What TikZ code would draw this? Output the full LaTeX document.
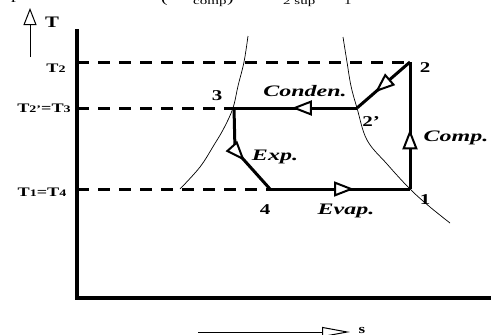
\documentclass[tikz,border=0pt]{standalone}
\usepackage{fontspec}
\setmainfont{Liberation Serif}
\usetikzlibrary{arrows.meta,decorations.markings}
\newcommand\hstretch[2]{\scalebox{#1}[1]{#2}}
\newcommand\smalldig[1]{{\fontsize{10}{10}\selectfont #1}}
\begin{document}
\begin{tikzpicture}[x=1pt,y=-1pt,
  axisline/.style={line width=3.4pt},
  cycline/.style={line width=3pt, line join=miter, line cap=butt},
  dashline/.style={line width=3pt, dash pattern=on 12pt off 9pt},
  satcurve/.style={line width=0.7pt},
  midarrow/.style={decoration={markings, mark=at position #1 with {\arrow{Triangle[fill=white,line width=2pt,length=20pt,width=15pt]}}}, postaction=decorate},
  numlbl/.style={font=\fontsize{15}{15}\selectfont\bfseries, inner sep=0pt},
  proclbl/.style={font=\fontsize{16}{16}\selectfont\bfseries\itshape, inner sep=0pt},
  templbl/.style={font=\fontsize{13}{13}\selectfont\bfseries, inner sep=0pt},
  toptext/.style={font=\fontsize{14}{14}\selectfont, inner sep=0pt, anchor=base west},
  topsub/.style={font=\fontsize{10}{10}\selectfont, inner sep=0pt, anchor=base west}]
\useasboundingbox (0,0) rectangle (491,335);
% clipped line of text at the top
\node[toptext] (tp) at (11,-1) {\hstretch{1.4}{p}};
\node[toptext] (tpar) at (161,2) {\hstretch{1.4}{(}};
\node[topsub] (tcomp) at (193,4) {\hstretch{1.5}{comp}};
\node[toptext] (tparr) at (227,2) {\hstretch{1.4}{)}};
\node[topsub] (tsup) at (283,4) {\hstretch{1.5}{2 sup}};
\node[topsub] (tone) at (344,4) {\hstretch{1.5}{1}};
% axes
\coordinate (atop) at (77,29);
\coordinate (aorig) at (77,298);
\coordinate (aright) at (495,298);
\draw[axisline] (atop) -- (aorig) -- (aright);
% T arrow
\coordinate (tbot) at (30,57);
\coordinate (ttop) at (30,8);
\draw[line width=0.9pt, -{Triangle[fill=white,line width=1pt,length=17pt,width=13pt]}] (tbot) -- (ttop);
\node[font=\fontsize{16}{16}\selectfont\bfseries, inner sep=0pt] (tlab) at (52,22) {\hstretch{1.3}{T}};
% s arrow
\coordinate (sl) at (198,332);
\coordinate (sr) at (350,332);
\draw[line width=0.9pt, -{Triangle[fill=white,line width=1pt,length=28pt,width=10pt]}] (sl) -- (sr);
\node[font=\fontsize{13}{13}\selectfont\bfseries, inner sep=0pt] (slab) at (362,330) {\hstretch{1.3}{s}};
% state points
\coordinate (p1) at (410,189);
\coordinate (p2) at (410,62);
\coordinate (p2p) at (357,108);
\coordinate (p3) at (234,108);
\coordinate (pk) at (235,150);
\coordinate (p4) at (270,189);
\coordinate (d2) at (77,62);
\coordinate (d3) at (77,108);
\coordinate (d1) at (77,189);
% dashed temperature lines
\draw[dashline] (d2) -- (p2);
\draw[dashline] (d3) -- (p3);
\draw[dashline] (d1) -- (p4);
% saturation curves
\draw[satcurve] plot[smooth, tension=0.6] coordinates {(248,36) (244,62) (238,86) (233,108) (224,128) (214,145) (200,167) (180,189)};
\draw[satcurve] plot[smooth, tension=0.6] coordinates {(343,37) (347,62) (351,86) (357,108) (367,140) (387,164) (410,189) (430,207) (450,223)};
% cycle
\draw[cycline, midarrow=0.47] (p1) -- (p2);
\draw[cycline, midarrow=0.66] (p2) -- (p2p);
\draw[cycline, midarrow=0.53] (p2p) -- (p3);
\draw[cycline, midarrow=0.6] (p3) -- (pk) -- (p4);
\draw[cycline, midarrow=0.6] (p4) -- (p1);
% point labels
\node[numlbl] (l2) at (425,68) {\hstretch{1.4}{2}};
\node[numlbl] (l3) at (217,96) {\hstretch{1.4}{3}};
\node[numlbl] (l2p) at (371,122) {\hstretch{1.4}{2'}};
\node[numlbl] (l1) at (425,200) {\hstretch{1.4}{1}};
\node[numlbl] (l4) at (265,210) {\hstretch{1.4}{4}};
% process labels
\node[proclbl] (lcond) at (305,91) {\hstretch{1.5}{Conden.}};
\node[proclbl] (lcomp) at (456,138) {\hstretch{1.5}{Comp.}};
\node[proclbl] (lexp) at (275,157) {\hstretch{1.5}{Exp.}};
\node[proclbl] (levap) at (346,211) {\hstretch{1.5}{Evap.}};
% temperature labels
\node[templbl] (lt2) at (56,68) {\hstretch{1.4}{T\smalldig{2}}};
\node[templbl] (lt23) at (44,108) {\hstretch{1.4}{T\smalldig{2'}=T\smalldig{3}}};
\node[templbl] (lt14) at (42,192) {\hstretch{1.4}{T\smalldig{1}=T\smalldig{4}}};
\end{tikzpicture}
\end{document}
